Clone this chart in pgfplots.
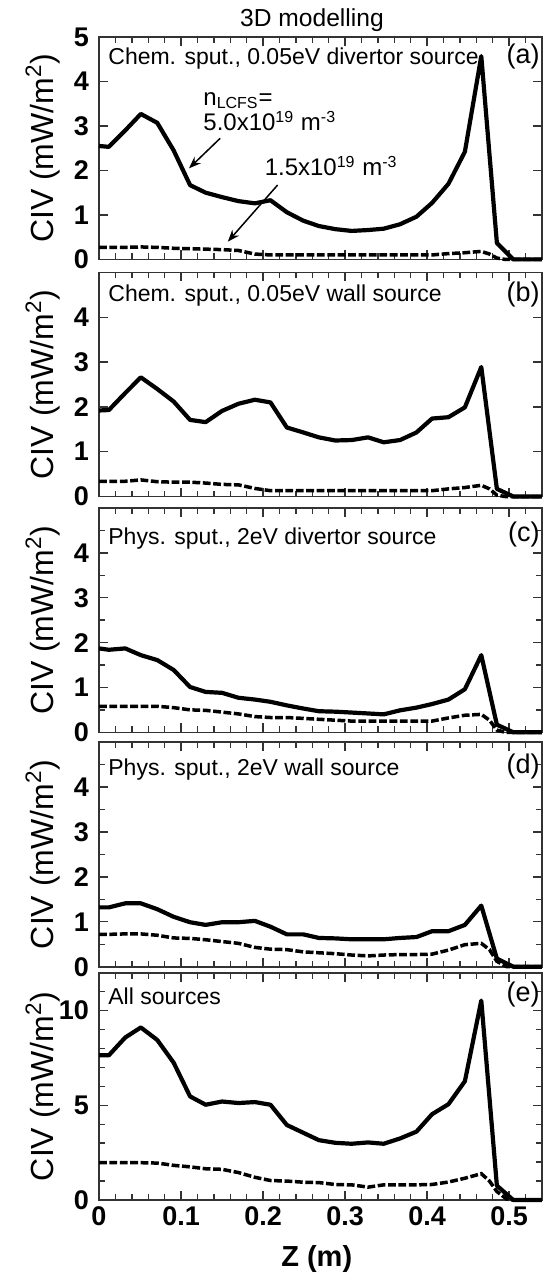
\documentclass[border=0pt]{standalone}
\usepackage{fontspec}
\setmainfont{Liberation Sans}
\usepackage{pgfplots}
\pgfplotsset{compat=1.18}
\usetikzlibrary{arrows.meta}
\pgfplotsset{
  panel/.style={
    scale only axis, width=221.5pt, xmin=0, xmax=0.54, ymin=0,
    anchor=south west, clip=false,
    axis line style={line width=0.8pt, black!80},
    every tick/.style={line width=0.7pt, black!80},
    tick align=inside,
    major tick length=4.5pt, minor tick length=3pt,
    xtick={0,0.1,0.2,0.3,0.4,0.5},
    minor xtick={0.02,0.04,0.06,0.08,0.12,0.14,0.16,0.18,0.22,0.24,0.26,0.28,0.32,0.34,0.36,0.38,0.42,0.44,0.46,0.48,0.52},
    xticklabels={},
    /pgf/number format/assume math mode=true,
    yticklabel style={font=\bfseries\fontsize{13.5}{14}\selectfont, xshift=-1.5pt},
    xticklabel style={font=\bfseries\fontsize{13.5}{14}\selectfont},
    ylabel={CIV (mW/m\textsuperscript{2})},
    ylabel style={font=\fontsize{16}{18}\selectfont, at={(axis description cs:-0.1264,0.5)}, anchor=center},
  },
  sol/.style={line width=2.1pt, black, line join=round},
  das/.style={line width=1.75pt, black, dash pattern=on 3.9pt off 1.3pt},
}
\tikzset{
  ptxt/.style={anchor=base west, inner sep=0pt, font=\fontsize{11.5}{13}\selectfont, xshift=4.5pt},
  plab/.style={anchor=base east, inner sep=0pt, font=\fontsize{13.5}{15}\selectfont, xshift=-1pt},
}
\begin{document}
\begin{tikzpicture}
% (a)
\begin{axis}[panel, at={(49.5pt,-129.7pt)}, height=111.2pt, ymax=5, ytick={0,1,2,3,4,5}]
\addplot[sol] coordinates {(0,2.55)(0.012,2.53)(0.032,2.90)(0.051,3.27)(0.071,3.07)(0.091,2.45)(0.111,1.67)(0.130,1.50)(0.150,1.40)(0.170,1.31)(0.190,1.26)(0.209,1.33)(0.229,1.06)(0.249,0.87)(0.268,0.75)(0.288,0.68)(0.308,0.64)(0.328,0.66)(0.347,0.69)(0.367,0.79)(0.387,0.96)(0.406,1.27)(0.426,1.70)(0.446,2.42)(0.466,4.57)(0.485,0.37)(0.505,0)(0.54,0)};
\addplot[das] coordinates {(0,0.27)(0.012,0.27)(0.032,0.27)(0.051,0.28)(0.071,0.27)(0.091,0.25)(0.111,0.24)(0.130,0.23)(0.150,0.22)(0.170,0.20)(0.190,0.12)(0.209,0.10)(0.229,0.10)(0.249,0.10)(0.268,0.10)(0.288,0.10)(0.308,0.10)(0.328,0.10)(0.347,0.10)(0.367,0.10)(0.387,0.10)(0.406,0.10)(0.426,0.13)(0.446,0.15)(0.466,0.18)(0.476,0.12)(0.485,0.03)(0.495,0)(0.54,0)};
\node[ptxt, yshift=-14pt] at (rel axis cs:0,1) {Chem. sput., 0.05eV divertor source};
\node[plab, yshift=-13.5pt] at (rel axis cs:1,1) {(a)};
\node[anchor=base west, inner sep=0pt, font=\fontsize{12}{14}\selectfont] at (axis cs:0.1268,3.47) {n\textsubscript{LCFS}=};
\node[anchor=base west, inner sep=0pt, font=\fontsize{12}{14}\selectfont] at (axis cs:0.1268,2.887) {5.0x10\textsuperscript{19} m\textsuperscript{-3}};
\node[anchor=base west, inner sep=0pt, font=\fontsize{12}{14}\selectfont] at (axis cs:0.2016,1.875) {1.5x10\textsuperscript{19} m\textsuperscript{-3}};
\draw[line width=0.75pt, -{Stealth[length=6pt,width=4.5pt]}] (axis cs:0.1477,2.722) -- (axis cs:0.1097,2.047);
\draw[line width=0.75pt, -{Stealth[length=6pt,width=4.5pt]}] (axis cs:0.2177,1.672) -- (axis cs:0.157,0.398);
\end{axis}
% (b)
\begin{axis}[panel, at={(49.5pt,-248.25pt)}, height=112pt, ymax=5, ytick={0,1,2,3,4}]
\addplot[sol] coordinates {(0,1.92)(0.012,1.93)(0.032,2.31)(0.051,2.66)(0.071,2.40)(0.091,2.12)(0.111,1.71)(0.130,1.66)(0.150,1.91)(0.170,2.07)(0.190,2.16)(0.209,2.10)(0.229,1.54)(0.249,1.43)(0.268,1.32)(0.288,1.25)(0.308,1.26)(0.328,1.32)(0.347,1.21)(0.367,1.26)(0.387,1.43)(0.406,1.74)(0.426,1.77)(0.446,1.99)(0.466,2.89)(0.485,0.17)(0.505,0)(0.54,0)};
\addplot[das] coordinates {(0,0.34)(0.012,0.34)(0.032,0.34)(0.051,0.37)(0.071,0.33)(0.091,0.32)(0.111,0.32)(0.130,0.30)(0.150,0.27)(0.170,0.26)(0.190,0.18)(0.209,0.13)(0.229,0.13)(0.249,0.13)(0.268,0.13)(0.288,0.13)(0.308,0.13)(0.328,0.13)(0.347,0.13)(0.367,0.13)(0.387,0.13)(0.406,0.13)(0.426,0.17)(0.446,0.20)(0.466,0.25)(0.476,0.17)(0.485,0.03)(0.495,0)(0.54,0)};
\node[ptxt, yshift=-14.5pt] at (rel axis cs:0,1) {Chem. sput., 0.05eV wall source};
\node[plab, yshift=-14.75pt] at (rel axis cs:1,1) {(b)};
\end{axis}
% (c)
\begin{axis}[panel, at={(49.5pt,-366.15pt)}, height=112.15pt, ymax=5, ytick={0,1,2,3,4}, minor ytick={0.5,1.5,2.5,3.5,4.5}]
\addplot[sol] coordinates {(0,1.87)(0.012,1.84)(0.032,1.87)(0.051,1.72)(0.071,1.61)(0.091,1.39)(0.111,1.01)(0.130,0.90)(0.150,0.88)(0.170,0.77)(0.190,0.73)(0.209,0.68)(0.229,0.60)(0.249,0.53)(0.268,0.47)(0.288,0.46)(0.308,0.44)(0.328,0.42)(0.347,0.40)(0.367,0.49)(0.387,0.55)(0.406,0.63)(0.426,0.73)(0.446,0.96)(0.466,1.72)(0.485,0.17)(0.505,0)(0.54,0)};
\addplot[das] coordinates {(0,0.58)(0.012,0.58)(0.032,0.58)(0.051,0.58)(0.071,0.58)(0.091,0.55)(0.111,0.50)(0.130,0.49)(0.150,0.45)(0.170,0.41)(0.190,0.35)(0.209,0.33)(0.229,0.33)(0.249,0.31)(0.268,0.29)(0.288,0.27)(0.308,0.25)(0.328,0.25)(0.347,0.25)(0.367,0.25)(0.387,0.25)(0.406,0.25)(0.426,0.32)(0.446,0.38)(0.466,0.40)(0.476,0.27)(0.485,0.05)(0.495,0)(0.54,0)};
\node[ptxt, yshift=-18pt] at (rel axis cs:0,1) {Phys. sput., 2eV divertor source};
\node[plab, yshift=-16.5pt] at (rel axis cs:1,1) {(c)};
\end{axis}
% (d)
\begin{axis}[panel, at={(49.5pt,-483.35pt)}, height=112.35pt, ymax=5, ytick={0,1,2,3,4}, minor ytick={0.5,1.5,2.5,3.5,4.5}]
\addplot[sol] coordinates {(0,1.32)(0.012,1.32)(0.032,1.41)(0.051,1.41)(0.071,1.28)(0.091,1.11)(0.111,0.99)(0.130,0.93)(0.150,0.99)(0.170,0.99)(0.190,1.02)(0.209,0.89)(0.229,0.72)(0.249,0.72)(0.268,0.64)(0.288,0.63)(0.308,0.61)(0.328,0.61)(0.347,0.61)(0.367,0.64)(0.387,0.66)(0.406,0.79)(0.426,0.79)(0.446,0.93)(0.466,1.36)(0.485,0.18)(0.505,0)(0.54,0)};
\addplot[das] coordinates {(0,0.72)(0.012,0.72)(0.032,0.73)(0.051,0.73)(0.071,0.70)(0.091,0.64)(0.111,0.63)(0.130,0.60)(0.150,0.56)(0.170,0.52)(0.190,0.43)(0.209,0.39)(0.229,0.38)(0.249,0.33)(0.268,0.31)(0.288,0.29)(0.308,0.26)(0.328,0.24)(0.347,0.26)(0.367,0.27)(0.387,0.27)(0.406,0.28)(0.426,0.37)(0.446,0.49)(0.466,0.52)(0.476,0.38)(0.485,0.12)(0.497,0)(0.54,0)};
\node[ptxt, yshift=-16.5pt] at (rel axis cs:0,1) {Phys. sput., 2eV wall source};
\node[plab, yshift=-15.5pt] at (rel axis cs:1,1) {(d)};
\end{axis}
% (e)
\begin{axis}[panel, at={(49.5pt,-600pt)}, height=113.65pt, ymax=12, ytick={0,5,10}, minor ytick={1,2,3,4,6,7,8,9,11},
  xticklabels={0,0.1,0.2,0.3,0.4,0.5},
  xlabel={Z (m)}, xlabel style={font=\bfseries\fontsize{14.5}{16}\selectfont, at={(axis description cs:0.4916,-0.2934)}, anchor=base}]
\addplot[sol] coordinates {(0,7.64)(0.012,7.64)(0.032,8.58)(0.051,9.11)(0.071,8.45)(0.091,7.25)(0.111,5.47)(0.130,5.03)(0.150,5.20)(0.170,5.12)(0.190,5.17)(0.209,5.03)(0.229,3.96)(0.249,3.55)(0.268,3.16)(0.288,3.02)(0.308,2.97)(0.328,3.04)(0.347,2.97)(0.367,3.25)(0.387,3.61)(0.406,4.53)(0.426,5.06)(0.446,6.27)(0.466,10.53)(0.485,0.76)(0.505,0)(0.54,0)};
\addplot[das] coordinates {(0,1.97)(0.012,1.97)(0.032,1.97)(0.051,1.97)(0.071,1.95)(0.091,1.83)(0.111,1.75)(0.130,1.65)(0.150,1.62)(0.170,1.45)(0.190,1.20)(0.209,1.03)(0.229,1.00)(0.249,0.94)(0.268,0.92)(0.288,0.82)(0.308,0.80)(0.328,0.68)(0.347,0.80)(0.367,0.80)(0.387,0.80)(0.406,0.82)(0.426,0.95)(0.446,1.15)(0.466,1.39)(0.476,1.00)(0.485,0.45)(0.497,0.05)(0.505,0)(0.54,0)};
\node[ptxt, yshift=-16pt] at (rel axis cs:0,1) {All sources};
\node[plab, yshift=-14.5pt] at (rel axis cs:1,1) {(e)};
\end{axis}
\node[anchor=base, font=\fontsize{12.3}{14}\selectfont] at (156pt,-13.5pt) {3D modelling};
\pgfresetboundingbox
\path[use as bounding box] (0,0) rectangle (272pt,-638.5pt);
\end{tikzpicture}
\end{document}
